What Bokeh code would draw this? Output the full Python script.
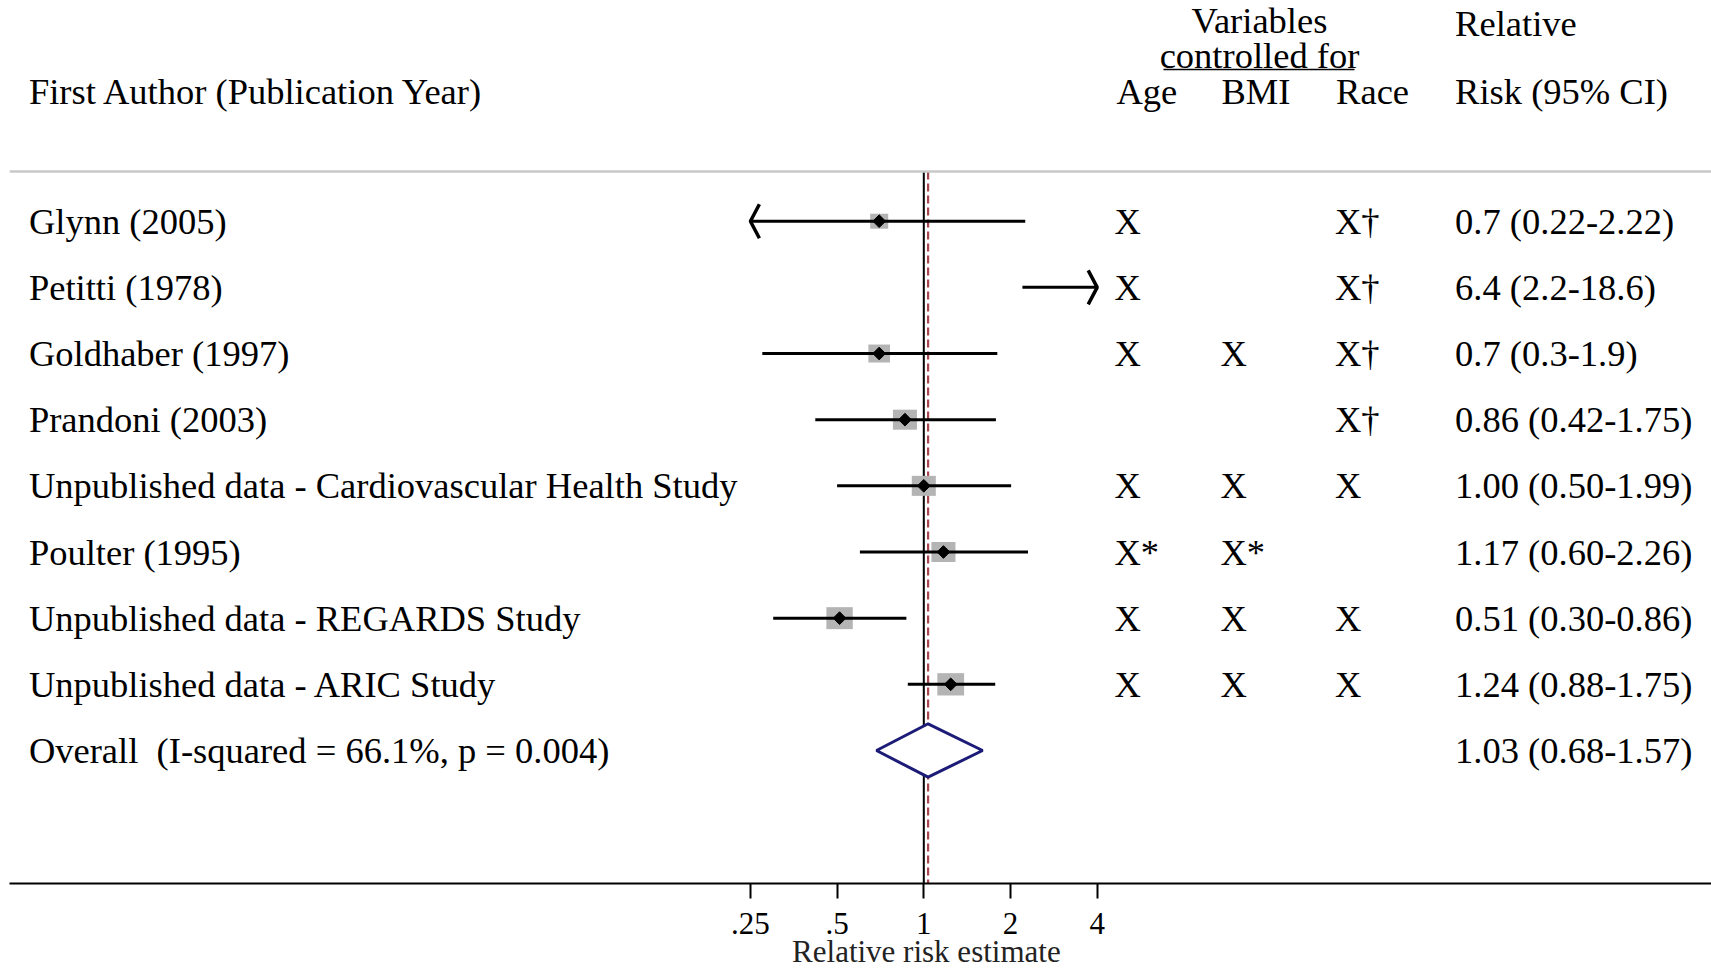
import numpy as np
from bokeh.plotting import figure
from bokeh.models import Range1d, FixedTicker, LinearScale
from bokeh.core.properties import value
from bokeh.embed import file_html
from bokeh.resources import INLINE

# ---------------- data ----------------
studies = ["Glynn (2005)", "Petitti (1978)", "Goldhaber (1997)", "Prandoni (2003)",
           "Unpublished data - Cardiovascular Health Study", "Poulter (1995)",
           "Unpublished data - REGARDS Study", "Unpublished data - ARIC Study"]
rr_est = [0.70, 6.4, 0.70, 0.86, 1.00, 1.17, 0.51, 1.24]
ci_low = [0.22, 2.2, 0.275, 0.42, 0.50, 0.60, 0.30, 0.88]
ci_high = [2.25, 18.6, 1.80, 1.78, 2.01, 2.30, 0.87, 1.77]
weights = [7.9, 4.5, 11.3, 14.0, 14.0, 14.0, 16.9, 17.4]
rr_text = ["0.7 (0.22-2.22)", "6.4 (2.2-18.6)", "0.7 (0.3-1.9)", "0.86 (0.42-1.75)",
           "1.00 (0.50-1.99)", "1.17 (0.60-2.26)", "0.51 (0.30-0.86)", "1.24 (0.88-1.75)"]
age_adj = ["X", "X", "X", "", "X", "X*", "X", "X"]
bmi_adj = ["", "", "X", "", "X", "X*", "X", "X"]
race_adj = ["X\u2020", "X\u2020", "X\u2020", "X\u2020", "X", "", "X", "X"]
overall_label = "Overall\u00a0\u00a0(I-squared = 66.1%, p = 0.004)"
overall_est = 1.035
overall_low = 0.685
overall_high = 1.60
overall_text = "1.03 (0.68-1.57)"
tick_values = [0.25, 0.5, 1, 2, 4]
tick_labels = [".25", ".5", "1", "2", "4"]
axis_title = "Relative risk estimate"

# ---------------- layout (page pixels) ----------------
W, H = 1711, 971
PX0, PX1 = 9, 1711          # frame left/right
PY_TOP, PY_AXIS = 0, 883    # frame top / axis line
ROW0_Y, ROW_STEP = 220.7, 66.16
X1_PX, PX_PER_LOG2 = 923.3, 86.7
RULE_Y = 171
TITLE_PAD = "\u00a0" * 17   # shifts the centred axis title right, under the x=1 line

FONT_NAME = "Liberation Serif"
FONT = value(FONT_NAME)
FS = "36.5px"

x_range = Range1d(2 ** ((PX0 - X1_PX) / PX_PER_LOG2), 2 ** ((PX1 - X1_PX) / PX_PER_LOG2))
y_range = Range1d((PY_AXIS - ROW0_Y) / ROW_STEP, (PY_TOP - ROW0_Y) / ROW_STEP)

p = figure(width=W, height=H, x_axis_type="log", x_range=x_range, y_range=y_range,
           y_axis_location=None, toolbar_location=None, output_backend="svg",
           title=None, min_border=0, min_border_left=PX0, min_border_right=W - PX1,
           min_border_top=PY_TOP, min_border_bottom=H - PY_AXIS)
p.extra_x_ranges = {"px": Range1d(PX0, PX1)}
p.extra_x_scales = {"px": LinearScale()}
p.extra_y_ranges = {"py": Range1d(PY_AXIS, PY_TOP)}
p.extra_y_scales = {"py": LinearScale()}
p.outline_line_color = None
p.xgrid.visible = False
p.ygrid.visible = False
p.background_fill_color = "white"
p.border_fill_color = "white"

# ---------------- axis ----------------
ax = p.xaxis[0]
ax.ticker = FixedTicker(ticks=tick_values, minor_ticks=[])
ax.major_label_overrides = {t: l for t, l in zip(tick_values, tick_labels)}
ax.axis_line_width = 2
ax.axis_line_color = "black"
ax.major_tick_line_width = 2
ax.major_tick_out = 15
ax.major_tick_in = 0
ax.minor_tick_out = 0
ax.minor_tick_in = 0
ax.major_label_standoff = 14
ax.major_label_text_font = FONT_NAME
ax.major_label_text_font_size = "31px"
ax.major_label_text_color = "black"
ax.axis_label = TITLE_PAD + axis_title
ax.axis_label_text_font = FONT_NAME
ax.axis_label_text_font_size = "31px"
ax.axis_label_text_font_style = "normal"
ax.axis_label_text_color = "#222222"
ax.axis_label_standoff = -3

# ---------------- forest marks ----------------
n = len(studies)
rows = list(range(n))
xmin, xmax = tick_values[0], tick_values[-1]
lo = [max(l, xmin) for l in ci_low]
hi = [min(h, xmax) for h in ci_high]

# reference lines
p.segment(x0=[1], x1=[1], y0=[RULE_Y], y1=[PY_AXIS], y_range_name="py",
          line_color="black", line_width=2)
p.segment(x0=[overall_est], x1=[overall_est], y0=[RULE_Y], y1=[PY_AXIS], y_range_name="py",
          line_color="#a8454f", line_width=2.2, line_dash="8 4")

# weight boxes
inside = [i for i in rows if xmin <= rr_est[i] <= xmax]
box_h = [5.35 * np.sqrt(weights[i]) for i in inside]
p.rect(x=[rr_est[i] for i in inside], y=inside, width=[b * 1.2 for b in box_h], height=box_h,
       width_units="screen", height_units="screen", fill_color="#b4b4b4", line_color=None)

# CI lines
p.segment(x0=lo, x1=hi, y0=rows, y1=rows, line_color="black", line_width=3)

# arrows for truncated CIs
arm = 2 ** (9 / PX_PER_LOG2)
dy = 17 / ROW_STEP
axs, ays = [], []
for i in rows:
    if ci_low[i] < xmin:
        axs.append([xmin * arm, xmin, xmin * arm])
        ays.append([i - dy, i, i + dy])
    if ci_high[i] > xmax:
        axs.append([xmax / arm, xmax, xmax / arm])
        ays.append([i - dy, i, i + dy])
p.multi_line(xs=axs, ys=ays, line_color="black", line_width=3.5)

# point estimates
p.scatter(x=[rr_est[i] for i in inside], y=inside, marker="square", angle=np.pi / 4,
          size=9, fill_color="black", line_color="black")

# overall diamond
orow = n
dh = 26.7 / ROW_STEP
p.patch(x=[overall_low, overall_est, overall_high, overall_est],
        y=[orow, orow - dh, orow, orow + dh],
        fill_color="white", line_color="#1c1c78", line_width=3)

# ---------------- text columns ----------------
def txt(x, y, t, align="left", xr="px", yr=None, size=FS, color="black"):
    kw = dict(x=x, y=y, text=t, x_range_name=xr, text_font=FONT, text_font_size=size,
              text_baseline="middle", text_align=align, text_color=color)
    if yr:
        kw["y_range_name"] = yr
    p.text(**kw)

all_rows = rows + [orow]
txt([28.4] * (n + 1), all_rows, studies + [overall_label])
txt([1114] * n, rows, age_adj)
txt([1220] * n, rows, bmi_adj)
txt([1334.5] * n, rows, race_adj)
txt([1454.6] * (n + 1), all_rows, rr_text + [overall_text])

# headers
txt([28.4], [90.6], ["First Author (Publication Year)"], yr="py")
txt([1259], [19.6], ["Variables"], align="center", yr="py")
txt([1259], [54.6], ["controlled for"], align="center", yr="py")
txt([1116, 1221, 1335.6], [90.6] * 3, ["Age", "BMI", "Race"], yr="py")
txt([1454.6], [22.9], ["Relative"], yr="py")
txt([1454.6], [90.6], ["Risk (95% CI)"], yr="py")

# header rules
p.segment(x0=[1163], x1=[1354], y0=[69], y1=[69], x_range_name="px", y_range_name="py",
          line_color="black", line_width=1.5)
p.segment(x0=[PX0], x1=[PX1], y0=[RULE_Y], y1=[RULE_Y], x_range_name="px", y_range_name="py",
          line_color="#c8c8c8", line_width=2.5)

open("out.html", "w").write(file_html(p, INLINE))
